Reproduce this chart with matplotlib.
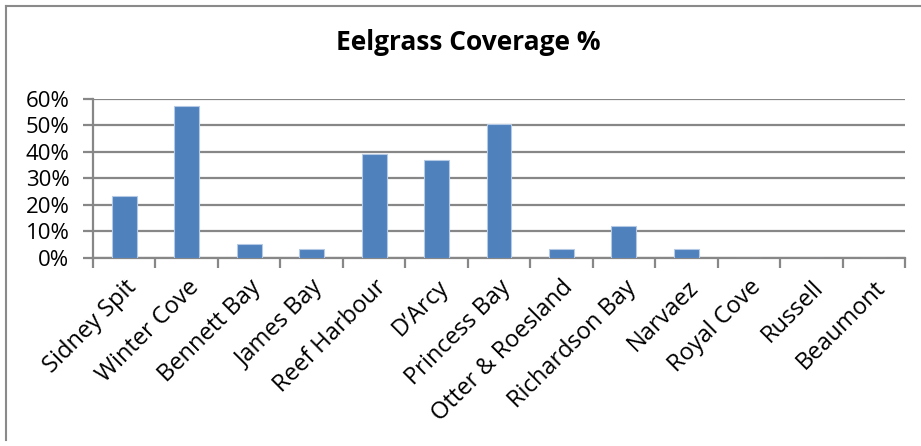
import numpy as np
import matplotlib.pyplot as plt
import matplotlib.transforms as mtransforms
from matplotlib.ticker import FixedLocator, PercentFormatter

sites = ['Sidney Spit', 'Winter Cove', 'Bennett Bay', 'James Bay', 'Reef Harbour',
         'D\u2019Arcy', 'Princess Bay', 'Otter & Roesland', 'Richardson Bay',
         'Narvaez', 'Royal Cove', 'Russell', 'Beaumont']
coverage = [23.3, 57.2, 5.0, 3.2, 39.1, 36.9, 50.4, 3.2, 11.9, 3.4, 0, 0, 0]
yticks = [0, 10, 20, 30, 40, 50, 60]

plt.rcParams['font.family'] = ['Open Sans', 'DejaVu Sans']
grey = '#878787'

fig = plt.figure(figsize=(9.21, 4.46), dpi=100)
ax = fig.add_axes([93/921, 1 - 257.5/446, (905 - 93)/921, (257.5 - 99)/446])

x = np.arange(len(sites))
ax.bar(x, coverage, width=0.4, color='#4f81bd', edgecolor='#b3c9e4', linewidth=0.8, zorder=3)

ax.set_xlim(-0.5, len(sites) - 0.5)
ax.set_ylim(0, 60)
ax.set_yticks(yticks)
ax.yaxis.set_major_formatter(PercentFormatter(decimals=0))
ax.grid(axis='y', color=grey, linewidth=1.6, zorder=0)

# category labels at centres, tick marks on the boundaries
ax.set_xticks(x)
ax.set_xticklabels(sites, rotation=45, ha='right', rotation_mode='anchor')
shift = mtransforms.ScaledTranslation(-6/72, 0, fig.dpi_scale_trans)
for lab in ax.get_xticklabels():
    lab.set_transform(lab.get_transform() + shift)
ax.xaxis.set_minor_locator(FixedLocator(np.arange(len(sites) + 1) - 0.5))
ax.tick_params(axis='x', which='major', length=0, pad=13, labelsize=17)
ax.tick_params(axis='x', which='minor', length=7, width=1.6, color=grey)
ax.tick_params(axis='y', length=7, width=1.6, color=grey, labelsize=16, pad=10)

for side in ('top', 'right'):
    ax.spines[side].set_visible(False)
for side in ('left', 'bottom'):
    ax.spines[side].set_color(grey)
    ax.spines[side].set_linewidth(1.6)

fig.text(468/921, 1 - 43/446, 'Eelgrass Coverage %', ha='center', va='center',
         fontsize=19, fontweight='bold')

# chart frame: left and top edges
fig.add_artist(plt.Line2D([6/921, 6/921], [1 - 440/446, 1 - 6/446], color='#8a8a8a', lw=1.5))
fig.add_artist(plt.Line2D([6/921, 1], [1 - 6/446, 1 - 6/446], color='#8a8a8a', lw=1.5))

fig.savefig('out.png', dpi=100)
